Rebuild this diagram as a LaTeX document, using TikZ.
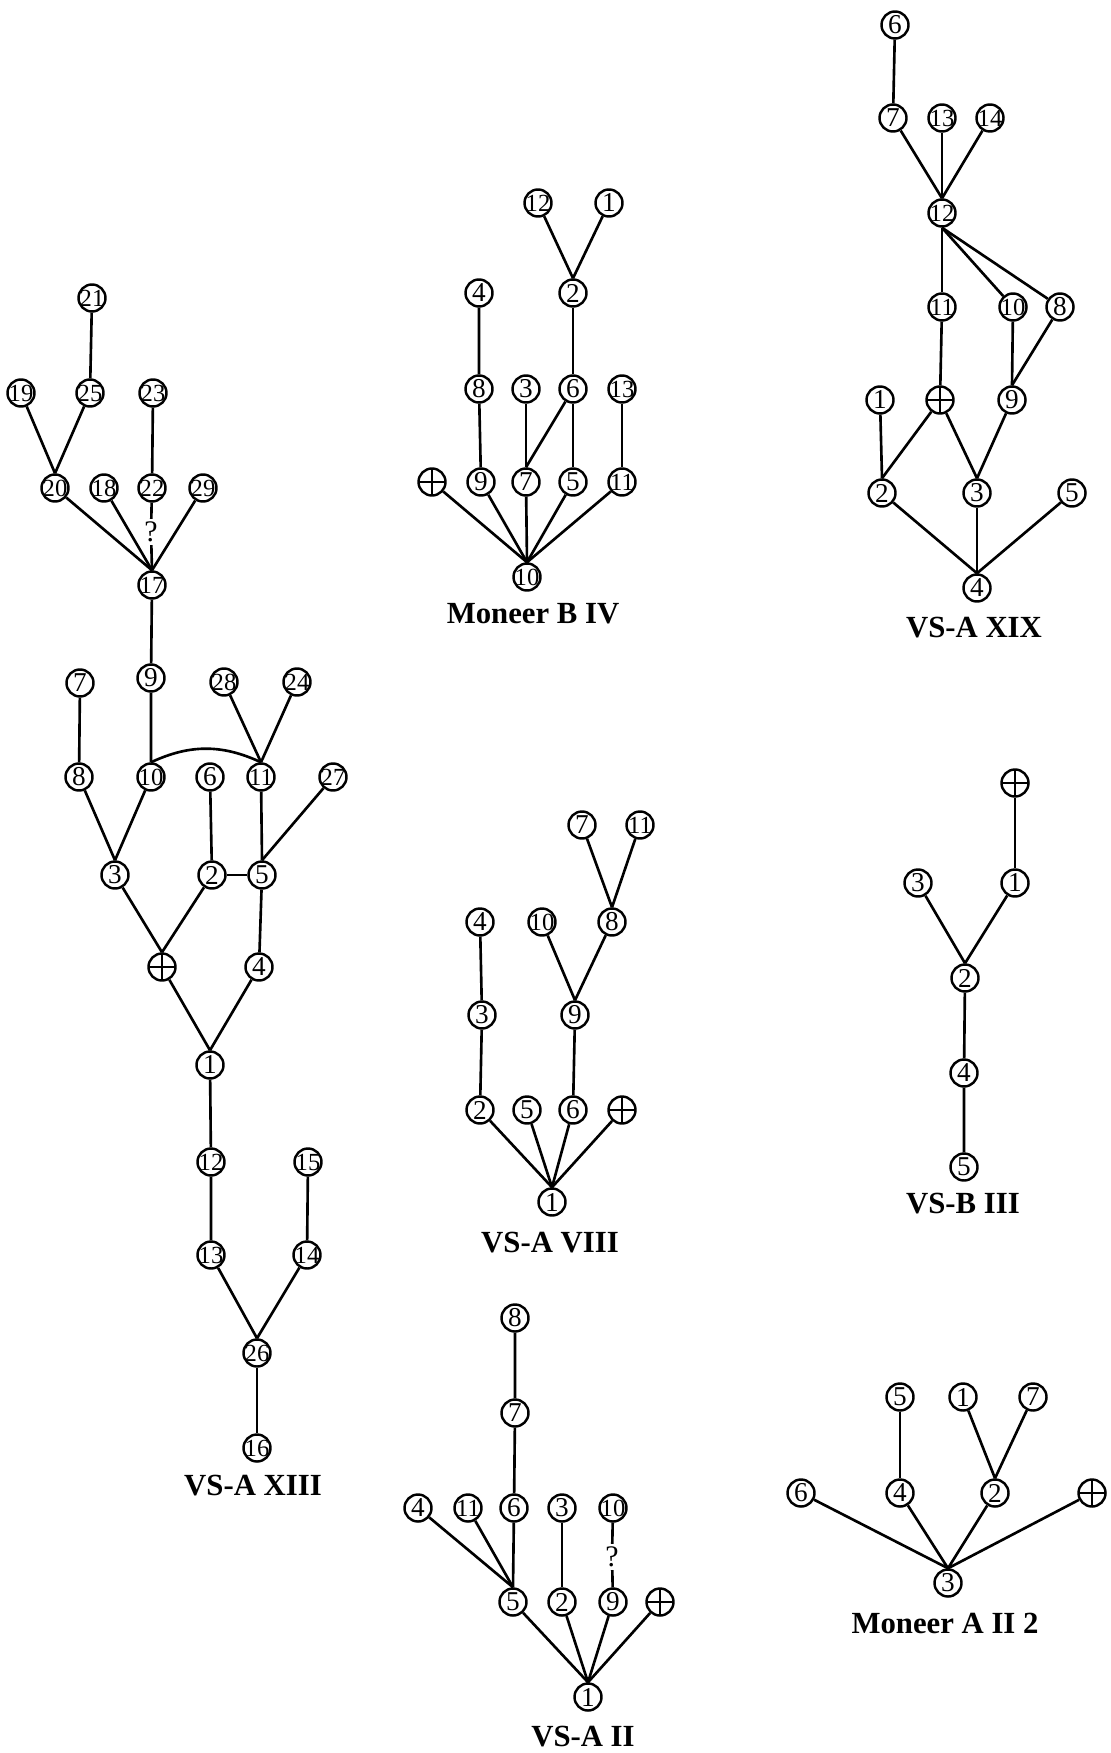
\documentclass[tikz,border=0pt]{standalone}
\usepackage{fontspec}
\setmainfont{Liberation Serif}
\tikzset{
  vnode/.style={circle, draw, line width=1.4pt, minimum size=0.54cm, inner sep=0pt, font=\fontsize{15.5}{15.5}\selectfont,
    execute at begin node=\hbox to 0pt\bgroup\hss, execute at end node=\hss\egroup},
  wnode/.style={vnode, font=\fontsize{14}{14}\selectfont},
  pnode/.style={vnode, path picture={\draw[line width=1.4pt] (path picture bounding box.north) -- (path picture bounding box.south) (path picture bounding box.west) -- (path picture bounding box.east);}},
  qnode/.style={inner sep=1.5pt, font=\fontsize{17}{17}\selectfont},
  treename/.style={font=\bfseries\fontsize{17.5}{17.5}\selectfont},
  edgeline/.style={line width=1.5pt}
}
\begin{document}
\begin{tikzpicture}[x=0.02cm, y=-0.02cm]
\useasboundingbox (0,0) rectangle (1110,1753);
% VS-A XIII
\node[wnode] (xiii21) at (92,298) {21};
\node[wnode] (xiii19) at (21,393) {19};
\node[wnode] (xiii25) at (90,393) {25};
\node[wnode] (xiii23) at (153,393) {23};
\node[wnode] (xiii20) at (55,488) {20};
\node[wnode] (xiii18) at (104,488) {18};
\node[wnode] (xiii22) at (152,488) {22};
\node[wnode] (xiii29) at (203,488) {29};
\node[qnode] (xiiiq) at (151,532) {?};
\node[wnode] (xiii17) at (152,585) {17};
\node[vnode] (xiii9) at (151,678) {9};
\node[vnode] (xiii7) at (80,683) {7};
\node[wnode] (xiii28) at (224,682) {28};
\node[wnode] (xiii24) at (297,682) {24};
\node[vnode] (xiii8) at (79,777) {8};
\node[wnode] (xiii10) at (151,777) {10};
\node[vnode] (xiii6) at (210,777) {6};
\node[wnode] (xiii11) at (261,777) {11};
\node[wnode] (xiii27) at (333,777) {27};
\node[vnode] (xiii3) at (115,875) {3};
\node[vnode] (xiii2) at (212,875) {2};
\node[vnode] (xiii5) at (262,875) {5};
\node[pnode] (xiiip) at (162,967) {};
\node[vnode] (xiii4) at (259,967) {4};
\node[vnode] (xiii1) at (210,1065) {1};
\node[wnode] (xiii12) at (211,1162) {12};
\node[wnode] (xiii15) at (308,1162) {15};
\node[wnode] (xiii13) at (211,1255) {13};
\node[wnode] (xiii14) at (307,1255) {14};
\node[wnode] (xiii26) at (257,1353) {26};
\node[wnode] (xiii16) at (257,1448) {16};
\node[treename] (xiiiname) at (253,1486) {VS-A XIII};
\draw[edgeline] (xiii21) -- (xiii25);
\draw[edgeline] (xiii19) -- (xiii20.north);
\draw[edgeline] (xiii25) -- (xiii20.north);
\draw[edgeline] (xiii23) -- (xiii22);
\draw[edgeline] (xiii20) -- (xiii17.north);
\draw[edgeline] (xiii18) -- (xiii17.north);
\draw[edgeline] (xiii29) -- (xiii17.north);
\draw[edgeline] (xiii22) -- (xiiiq) -- (xiii17.north);
\draw[edgeline] (xiii17) -- (xiii9) -- (xiii10);
\draw[edgeline] (xiii7) -- (xiii8);
\draw[edgeline] (xiii28) -- (xiii11.north);
\draw[edgeline] (xiii24) -- (xiii11.north);
\draw[edgeline] (xiii10.north) to[bend left=25] (xiii11.north);
\draw[edgeline] (xiii8) -- (xiii3.north);
\draw[edgeline] (xiii10) -- (xiii3.north);
\draw[edgeline] (xiii6) -- (xiii2);
\draw[edgeline] (xiii11) -- (xiii5.north);
\draw[edgeline] (xiii27) -- (xiii5.north);
\draw[edgeline] (xiii2) -- (xiii5);
\draw[edgeline] (xiii3) -- (xiiip.north);
\draw[edgeline] (xiii2) -- (xiiip.north);
\draw[edgeline] (xiii5) -- (xiii4);
\draw[edgeline] (xiiip) -- (xiii1.north);
\draw[edgeline] (xiii4) -- (xiii1.north);
\draw[edgeline] (xiii1) -- (xiii12) -- (xiii13);
\draw[edgeline] (xiii15) -- (xiii14);
\draw[edgeline] (xiii13) -- (xiii26.north);
\draw[edgeline] (xiii14) -- (xiii26.north);
\draw[edgeline] (xiii26) -- (xiii16);
% Moneer B IV
\node[wnode] (mbiv12) at (538,203) {12};
\node[vnode] (mbiv1) at (609,203) {1};
\node[vnode] (mbiv4) at (479,293) {4};
\node[vnode] (mbiv2) at (573,293) {2};
\node[vnode] (mbiv8) at (479,389) {8};
\node[vnode] (mbiv3) at (526,389) {3};
\node[vnode] (mbiv6) at (573,389) {6};
\node[wnode] (mbiv13) at (622,389) {13};
\node[pnode] (mbivp) at (432,482) {};
\node[vnode] (mbiv9) at (481,482) {9};
\node[vnode] (mbiv7) at (526,482) {7};
\node[vnode] (mbiv5) at (573,482) {5};
\node[wnode] (mbiv11) at (622,482) {11};
\node[wnode] (mbiv10) at (527,577) {10};
\node[treename] (mbivname) at (533,614) {Moneer B IV};
\draw[edgeline] (mbiv12) -- (mbiv2.north);
\draw[edgeline] (mbiv1) -- (mbiv2.north);
\draw[edgeline] (mbiv4) -- (mbiv8) -- (mbiv9);
\draw[edgeline] (mbiv2) -- (mbiv6) -- (mbiv5);
\draw[edgeline] (mbiv3) -- (mbiv7.north);
\draw[edgeline] (mbiv6) -- (mbiv7.north);
\draw[edgeline] (mbiv13) -- (mbiv11);
\draw[edgeline] (mbivp) -- (mbiv10.north);
\draw[edgeline] (mbiv9) -- (mbiv10.north);
\draw[edgeline] (mbiv7) -- (mbiv10.north);
\draw[edgeline] (mbiv5) -- (mbiv10.north);
\draw[edgeline] (mbiv11) -- (mbiv10.north);
% VS-A XIX
\node[vnode] (xix6) at (895,25) {6};
\node[vnode] (xix7) at (893,118) {7};
\node[wnode] (xix13) at (942,118) {13};
\node[wnode] (xix14) at (990,118) {14};
\node[wnode] (xix12) at (942,213) {12};
\node[wnode] (xix11) at (942,307) {11};
\node[wnode] (xix10) at (1013,307) {10};
\node[vnode] (xix8) at (1060,307) {8};
\node[vnode] (xix1) at (880,400) {1};
\node[pnode] (xixp) at (940,400) {};
\node[vnode] (xix9) at (1012,400) {9};
\node[vnode] (xix2) at (882,493) {2};
\node[vnode] (xix3) at (977,493) {3};
\node[vnode] (xix5) at (1072,493) {5};
\node[vnode] (xix4) at (977,588) {4};
\node[treename] (xixname) at (974,628) {VS-A XIX};
\draw[edgeline] (xix6) -- (xix7);
\draw[edgeline] (xix7) -- (xix12.north);
\draw[edgeline] (xix13) -- (xix12.north);
\draw[edgeline] (xix14) -- (xix12.north);
\draw[edgeline] (xix12.south) -- (xix11);
\draw[edgeline] (xix12.south) -- (xix10);
\draw[edgeline] (xix12.south) -- (xix8);
\draw[edgeline] (xix11) -- (xixp);
\draw[edgeline] (xix10) -- (xix9.north);
\draw[edgeline] (xix8) -- (xix9.north);
\draw[edgeline] (xix1) -- (xix2.north);
\draw[edgeline] (xixp) -- (xix2.north);
\draw[edgeline] (xixp) -- (xix3.north);
\draw[edgeline] (xix9) -- (xix3.north);
\draw[edgeline] (xix2) -- (xix4.north);
\draw[edgeline] (xix3) -- (xix4.north);
\draw[edgeline] (xix5) -- (xix4.north);
% VS-A VIII
\node[vnode] (viii7) at (582,825) {7};
\node[wnode] (viii11) at (640,825) {11};
\node[vnode] (viii4) at (480,922) {4};
\node[wnode] (viii10) at (542,922) {10};
\node[vnode] (viii8) at (612,922) {8};
\node[vnode] (viii3) at (482,1015) {3};
\node[vnode] (viii9) at (575,1015) {9};
\node[vnode] (viii2) at (480,1110) {2};
\node[vnode] (viii5) at (527,1110) {5};
\node[vnode] (viii6) at (573,1110) {6};
\node[pnode] (viiip) at (622,1110) {};
\node[vnode] (viii1) at (552,1202) {1};
\node[treename] (viiiname) at (550,1243) {VS-A VIII};
\draw[edgeline] (viii7) -- (viii8.north);
\draw[edgeline] (viii11) -- (viii8.north);
\draw[edgeline] (viii4) -- (viii3) -- (viii2);
\draw[edgeline] (viii10) -- (viii9.north);
\draw[edgeline] (viii8) -- (viii9.north);
\draw[edgeline] (viii9) -- (viii6);
\draw[edgeline] (viii2) -- (viii1.north);
\draw[edgeline] (viii5) -- (viii1.north);
\draw[edgeline] (viii6) -- (viii1.north);
\draw[edgeline] (viiip) -- (viii1.north);
% VS-B III
\node[pnode] (biiip) at (1015,783) {};
\node[vnode] (biii3) at (918,883) {3};
\node[vnode] (biii1) at (1015,883) {1};
\node[vnode] (biii2) at (965,978) {2};
\node[vnode] (biii4) at (964,1073) {4};
\node[vnode] (biii5) at (964,1167) {5};
\node[treename] (biiiname) at (963,1204) {VS-B III};
\draw[edgeline] (biiip) -- (biii1);
\draw[edgeline] (biii3) -- (biii2.north);
\draw[edgeline] (biii1) -- (biii2.north);
\draw[edgeline] (biii2) -- (biii4) -- (biii5);
% VS-A II
\node[vnode] (aii8) at (515,1318) {8};
\node[vnode] (aii7) at (515,1413) {7};
\node[vnode] (aii4) at (418,1508) {4};
\node[wnode] (aii11) at (468,1508) {11};
\node[vnode] (aii6) at (514,1508) {6};
\node[vnode] (aii3) at (562,1508) {3};
\node[wnode] (aii10) at (613,1508) {10};
\node[qnode] (aiiq) at (612,1557) {?};
\node[vnode] (aii5) at (513,1602) {5};
\node[vnode] (aii2) at (562,1602) {2};
\node[vnode] (aii9) at (613,1602) {9};
\node[pnode] (aiip) at (660,1602) {};
\node[vnode] (aii1) at (588,1697) {1};
\node[treename] (aiiname) at (583,1737) {VS-A II};
\draw[edgeline] (aii8) -- (aii7) -- (aii6);
\draw[edgeline] (aii6) -- (aii5.north);
\draw[edgeline] (aii4) -- (aii5.north);
\draw[edgeline] (aii11) -- (aii5.north);
\draw[edgeline] (aii3) -- (aii2);
\draw[edgeline] (aii10) -- (aiiq) -- (aii9);
\draw[edgeline] (aii5) -- (aii1.north);
\draw[edgeline] (aii2) -- (aii1.north);
\draw[edgeline] (aii9) -- (aii1.north);
\draw[edgeline] (aiip) -- (aii1.north);
% Moneer A II 2
\node[vnode] (maii5) at (900,1397) {5};
\node[vnode] (maii1) at (963,1397) {1};
\node[vnode] (maii7) at (1033,1397) {7};
\node[vnode] (maii6) at (801,1493) {6};
\node[vnode] (maii4) at (900,1493) {4};
\node[vnode] (maii2) at (995,1493) {2};
\node[pnode] (maiip) at (1092,1493) {};
\node[vnode] (maii3) at (948,1583) {3};
\node[treename] (maiiname) at (945,1623) {Moneer A II 2};
\draw[edgeline] (maii5) -- (maii4);
\draw[edgeline] (maii1) -- (maii2.north);
\draw[edgeline] (maii7) -- (maii2.north);
\draw[edgeline] (maii6) -- (maii3.north);
\draw[edgeline] (maii4) -- (maii3.north);
\draw[edgeline] (maii2) -- (maii3.north);
\draw[edgeline] (maiip) -- (maii3.north);
\end{tikzpicture}
\end{document}
